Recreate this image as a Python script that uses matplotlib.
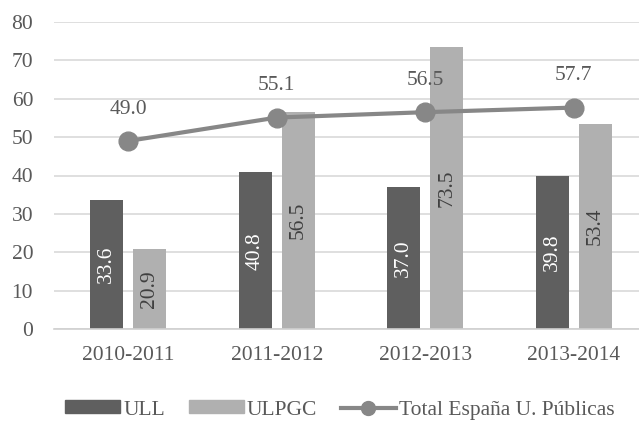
import matplotlib
matplotlib.use('Agg')
import matplotlib.pyplot as plt
from matplotlib.lines import Line2D
from matplotlib.patches import Patch
import numpy as np

plt.rcParams['font.family'] = ['Liberation Serif', 'DejaVu Serif']

cursos = ['2010-2011', '2011-2012', '2012-2013', '2013-2014']
ull = [33.6, 40.8, 37.0, 39.8]
ulpgc = [20.9, 56.5, 73.5, 53.4]
total_espana = [49.0, 55.1, 56.5, 57.7]

c_ull = '#5f5f5f'
c_ulpgc = '#b0b0b0'
c_line = '#878787'
c_text = '#595959'
fs = 15.5

fig = plt.figure(figsize=(6.39, 4.21), dpi=100)
# axes extends a bit past the right edge, as in the original crop
ax = fig.add_axes([54/639, 92/421, 594/639, 307/421])

x = np.arange(len(cursos))
w = 0.222
off = 0.145
ax.bar(x - off, ull, w, color=c_ull, zorder=2)
ax.bar(x + off, ulpgc, w, color=c_ulpgc, zorder=2)
ax.plot(x, total_espana, color=c_line, lw=3, marker='o', ms=13.5, zorder=3)

for xi, v in zip(x - off, ull):
    ax.text(xi, v / 2, f'{v:.1f}', rotation=90, ha='center', va='center',
            color='white', fontsize=fs, zorder=4)
for xi, v in zip(x + off, ulpgc):
    ax.text(xi, v / 2, f'{v:.1f}', rotation=90, ha='center', va='center',
            color='#404040', fontsize=fs, zorder=4)
for xi, v in zip(x, total_espana):
    ax.text(xi, v + 8.3, f'{v:.1f}', ha='center', va='center',
            color=c_text, fontsize=fs, zorder=4)

ax.set_xlim(-0.5, 3.5)
ax.set_ylim(0, 80)
ax.set_yticks(range(0, 81, 10))
ax.set_xticks(x)
ax.set_xticklabels(cursos)
ax.tick_params(axis='both', length=0, labelsize=fs, colors=c_text)
ax.tick_params(axis='y', pad=15)
ax.tick_params(axis='x', pad=12)
ax.grid(axis='y', color='#d9d9d9', lw=1.2, zorder=0)
ax.set_axisbelow(True)
for s in ['top', 'right', 'left']:
    ax.spines[s].set_visible(False)
ax.spines['bottom'].set_color('#d0d0d0')
ax.spines['bottom'].set_linewidth(1.2)

handles = [Patch(color=c_ull), Patch(color=c_ulpgc),
           Line2D([], [], color=c_line, lw=3, marker='o', ms=10)]
labels = ['ULL', 'ULPGC', 'Total España U. Públicas']
fig.legend(handles, labels, loc='center', bbox_to_anchor=(340/639, 1 - 410/421),
           ncol=3, frameon=False, fontsize=fs, labelcolor=c_text,
           handlelength=2.55, handleheight=0.55, handletextpad=0.15,
           columnspacing=1.1)

fig.savefig('out.png', dpi=100)
